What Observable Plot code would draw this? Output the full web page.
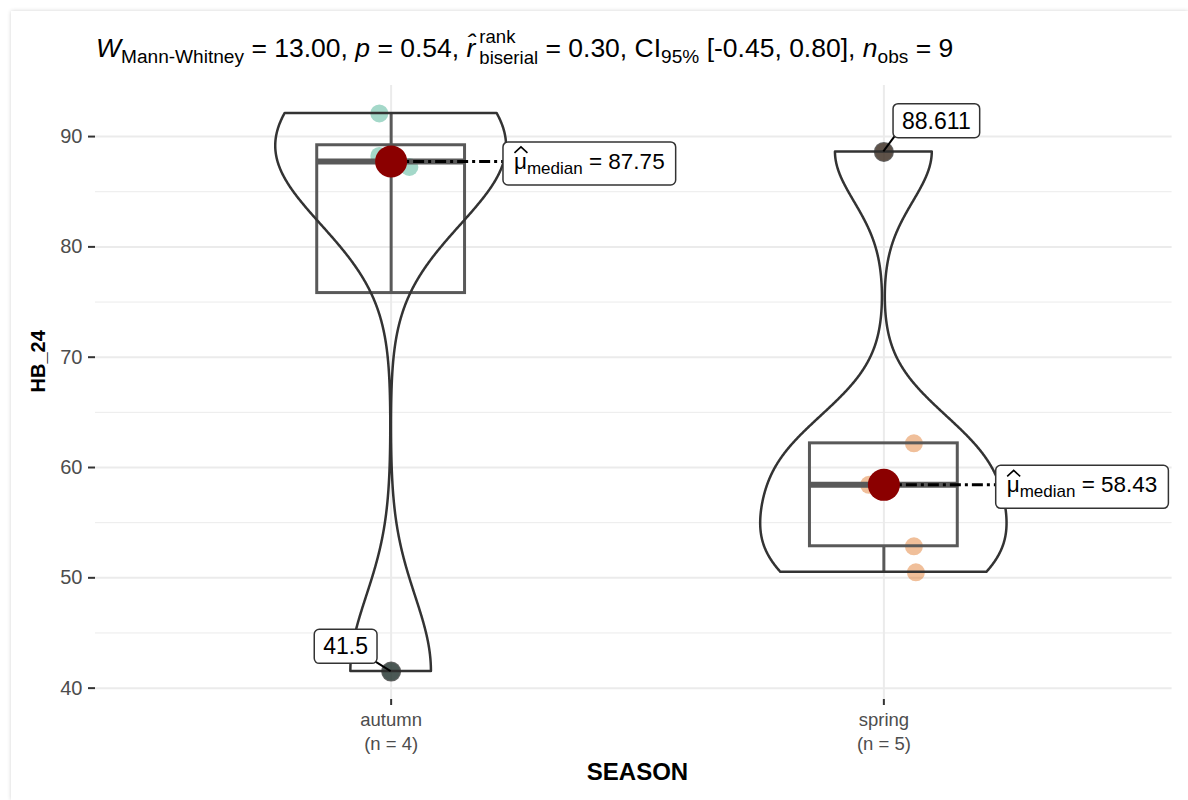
<!DOCTYPE html>
<html><head><meta charset="utf-8">
<script src="https://cdn.jsdelivr.net/npm/d3@7"></script>
<script src="https://cdn.jsdelivr.net/npm/@observablehq/plot@0.6"></script>
<style>
body{margin:0;background:#fff;font-family:"Liberation Sans",Arial,sans-serif;}
#frame{position:absolute;left:11px;top:11px;width:1177px;height:789px;box-shadow:0 0 4px rgba(0,0,0,0.18);background:#fff;}
#title{position:absolute;left:96px;top:26px;font-size:26.5px;line-height:1;white-space:nowrap;color:#000;}
#title sub{font-size:0.72em;vertical-align:-0.35em;line-height:0}
.ss{display:inline-block;font-size:0.7em;vertical-align:-0.42em;line-height:1.15;margin-left:4px}
.ss span{display:block}
#chart{position:absolute;left:0;top:75px;}
</style></head><body>
<div id="frame"></div>
<div id="title"><i>W</i><sub>Mann-Whitney</sub> = 13.00, <i>p</i> = 0.54, <i>r&#770;</i><span class="ss"><span>rank</span><span>biserial</span></span> = 0.30, CI<sub>95%</sub> [-0.45, 0.80], <i>n</i><sub>obs</sub> = 9</div>
<div id="chart"></div>
<script>
// ---- data ----
const seasons = ["autumn", "spring"];
const autumnHB = [41.5, 87.25, 88.25, 92.1];
const springHB = [50.5, 52.86, 58.43, 62.19, 88.611];
// horizontal jitter of the raw points (in category units)
const autumnJitter = [0, 0.037, -0.024, -0.024];
const springJitter = [0.065, 0.061, -0.03, 0.061, 0];
const yTicks = [40, 50, 60, 70, 80, 90];
const yMinor = [45, 55, 65, 75, 85];
const groupColors = ["#1B9E77", "#D95F02"];

const groups = [autumnHB, springHB];
const jitters = [autumnJitter, springJitter];

// raw points
const points = [];
groups.forEach((vals, gi) => vals.forEach((v, k) => points.push({g: gi, x: gi + 1 + jitters[gi][k], y: v})));

// box statistics (R type-7 quantiles)
const stats = groups.map((vals, gi) => {
  const s = vals.slice().sort((a, b) => a - b);
  const q1 = d3.quantile(s, 0.25), q3 = d3.quantile(s, 0.75), med = d3.median(s);
  const iqr = q3 - q1, lo = q1 - 1.5 * iqr, hi = q3 + 1.5 * iqr;
  const inside = s.filter(v => v >= lo && v <= hi);
  return {g: gi, pos: gi + 1, q1, q3, med, wlo: d3.min(inside), whi: d3.max(inside),
          outliers: s.filter(v => v < lo || v > hi)};
});

// violin: gaussian KDE with bw.nrd0, trimmed to data range, scale = "area"
function nrd0(s) {
  const sd = d3.deviation(s), iqr = d3.quantile(s, 0.75) - d3.quantile(s, 0.25);
  const lo = Math.min(sd, iqr / 1.34);
  return 0.9 * lo * Math.pow(s.length, -0.2);
}
const violinRaw = groups.map((vals, gi) => {
  const s = vals.slice().sort((a, b) => a - b);
  const bw = nrd0(s), mn = s[0], mx = s[s.length - 1], n = 512;
  const out = [];
  for (let i = 0; i < n; i++) {
    const y = mn + (mx - mn) * i / (n - 1);
    let d = 0;
    for (const v of s) { const z = (y - v) / bw; d += Math.exp(-0.5 * z * z); }
    d /= (s.length * bw * Math.sqrt(2 * Math.PI));
    out.push({g: gi, y, d});
  }
  return out;
});
const dmax = d3.max(violinRaw.flat(), d => d.d);
const violin = violinRaw.flat().map(d => ({...d, x1: d.g + 1 - 0.25 * d.d / dmax, x2: d.g + 1 + 0.25 * d.d / dmax}));

const outlierPts = stats.flatMap(s => s.outliers.map(v => ({pos: s.pos, y: v})));

const plot = Plot.plot({
  width: 1188,
  height: 725,
  marginTop: 10,
  marginBottom: 101,
  marginLeft: 95,
  marginRight: 9,
  style: {fontFamily: "'Liberation Sans', Arial, sans-serif", background: "transparent", fontSize: "18px"},
  x: {domain: [0.4, 2.6], axis: null},
  y: {domain: [38.97, 94.63], axis: null},
  marks: [
    Plot.ruleY(yMinor, {x1: 0.4, x2: 2.585, stroke: "#ebebeb", strokeWidth: 1}),
    Plot.ruleY(yTicks, {x1: 0.4, x2: 2.585, stroke: "#ebebeb", strokeWidth: 2}),
    Plot.ruleX([1, 2], {stroke: "#ebebeb", strokeWidth: 2}),
    Plot.axisY({ticks: yTicks, tickSize: 7, tickFormat: () => "", stroke: "#333", strokeWidth: 2, label: null}),
    Plot.axisX({ticks: [1, 2], tickSize: 6, tickFormat: () => "", stroke: "#333", strokeWidth: 2, label: null}),
    Plot.text(yTicks, {y: d => d, frameAnchor: "left", textAnchor: "end", dx: -13, fontSize: 20, fill: "#4d4d4d"}),
    Plot.text([1, 2], {x: d => d, frameAnchor: "bottom", lineAnchor: "top", dy: 10, fontSize: 18.5, lineHeight: 1.27, fill: "#4d4d4d",
      text: d => `${seasons[d - 1]}\n(n = ${groups[d - 1].length})`}),
    Plot.text(["SEASON"], {frameAnchor: "bottom", dy: 80, fontSize: 24, fontWeight: "bold", fill: "#000"}),
    Plot.text(["HB_24"], {frameAnchor: "left", dx: -57, rotate: -90, fontSize: 20, fontWeight: "bold", fill: "#000"}),
    Plot.dot(points, {x: "x", y: "y", r: 9, fill: d => groupColors[d.g], fillOpacity: 0.4, stroke: "none"}),
    Plot.ruleX(stats, {x: "pos", y1: "q3", y2: "whi", stroke: "#595959", strokeWidth: 3}),
    Plot.ruleX(stats, {x: "pos", y1: "q1", y2: "wlo", stroke: "#595959", strokeWidth: 3}),
    Plot.rect(stats, {x1: d => d.pos - 0.15, x2: d => d.pos + 0.15, y1: "q1", y2: "q3", fill: "none", stroke: "#595959", strokeWidth: 3}),
    Plot.ruleY(stats, {y: "med", x1: d => d.pos - 0.15, x2: d => d.pos + 0.15, stroke: "#595959", strokeWidth: 6}),
    Plot.areaX(violin, {y: "y", x1: "x1", x2: "x2", z: "g", fill: "none", stroke: "#333", strokeWidth: 2.5}),
    Plot.dot(outlierPts, {x: "pos", y: "y", r: 10, fill: "#2e2e2e", fillOpacity: 0.75, stroke: "none"}),
    Plot.link(stats, {x1: "pos", y1: "med", x2: d => d.pos + 0.228, y2: "med", stroke: "#000", strokeWidth: 3, strokeDasharray: "11,4,3,4"}),
    Plot.dot(stats, {x: "pos", y: "med", r: 16, fill: "#8B0000", stroke: "none"})
  ]
});
document.getElementById("chart").appendChild(plot);

// ---- label boxes drawn through the plot's scales ----
const xs = plot.scale("x"), ys = plot.scale("y");
const svg = d3.select(plot);
const layer = svg.append("g").attr("font-family", "'Liberation Sans', Arial, sans-serif").attr("text-anchor", "start");

function boxed(g, padX, padY) {
  const t = g.select("text").node().getBBox();
  g.insert("rect", "text")
    .attr("x", t.x - padX).attr("y", t.y - padY)
    .attr("width", t.width + 2 * padX).attr("height", t.height + 2 * padY)
    .attr("rx", 5).attr("fill", "#fff").attr("stroke", "#333").attr("stroke-width", 1.5);
}

// median labels
stats.forEach(s => {
  const x = xs.apply(s.pos + 0.228), y = ys.apply(s.med);
  const g = layer.append("g");
  const tx = x + 11, ty = y + 8;
  const t = g.append("text").attr("x", tx).attr("y", ty).attr("font-size", 22.5).attr("fill", "#000").attr("text-anchor", "start");
  t.append("tspan").text("\u03bc");
  t.append("tspan").attr("font-size", 17).attr("dy", 5).text("median");
  t.append("tspan").attr("dy", -5).text(" = " + s.med.toFixed(2));
  boxed(g, 11, 7);
  const mu = t.node().getExtentOfChar(0);
  g.append("path")
    .attr("d", `M${mu.x + 0.5},${ty - 16} L${mu.x + mu.width / 2 + 0.5},${ty - 22} L${mu.x + mu.width + 0.5},${ty - 16}`)
    .attr("fill", "none").attr("stroke", "#000").attr("stroke-width", 1.6);
});

// outlier labels
const outlierOffsets = [[-45, -25], [53, -31]];
stats.forEach((s, i) => s.outliers.forEach(v => {
  const px = xs.apply(s.pos), py = ys.apply(v);
  const [dx, dy] = outlierOffsets[i];
  const g = layer.append("g");
  g.append("text").attr("x", px + dx).attr("y", py + dy).attr("dy", "0.36em").attr("text-anchor", "middle")
    .attr("font-size", 23).attr("fill", "#000").text(String(v));
  boxed(g, 9, 4);
  const r = g.select("rect").node().getBBox();
  const cx = dx < 0 ? r.x + r.width - 2 : r.x + 2;
  const cy = r.y + r.height - 2;
  g.insert("line", "rect").attr("x1", px).attr("y1", py).attr("x2", cx).attr("y2", cy).attr("stroke", "#000").attr("stroke-width", 2);
}));
</script>
</body></html>
